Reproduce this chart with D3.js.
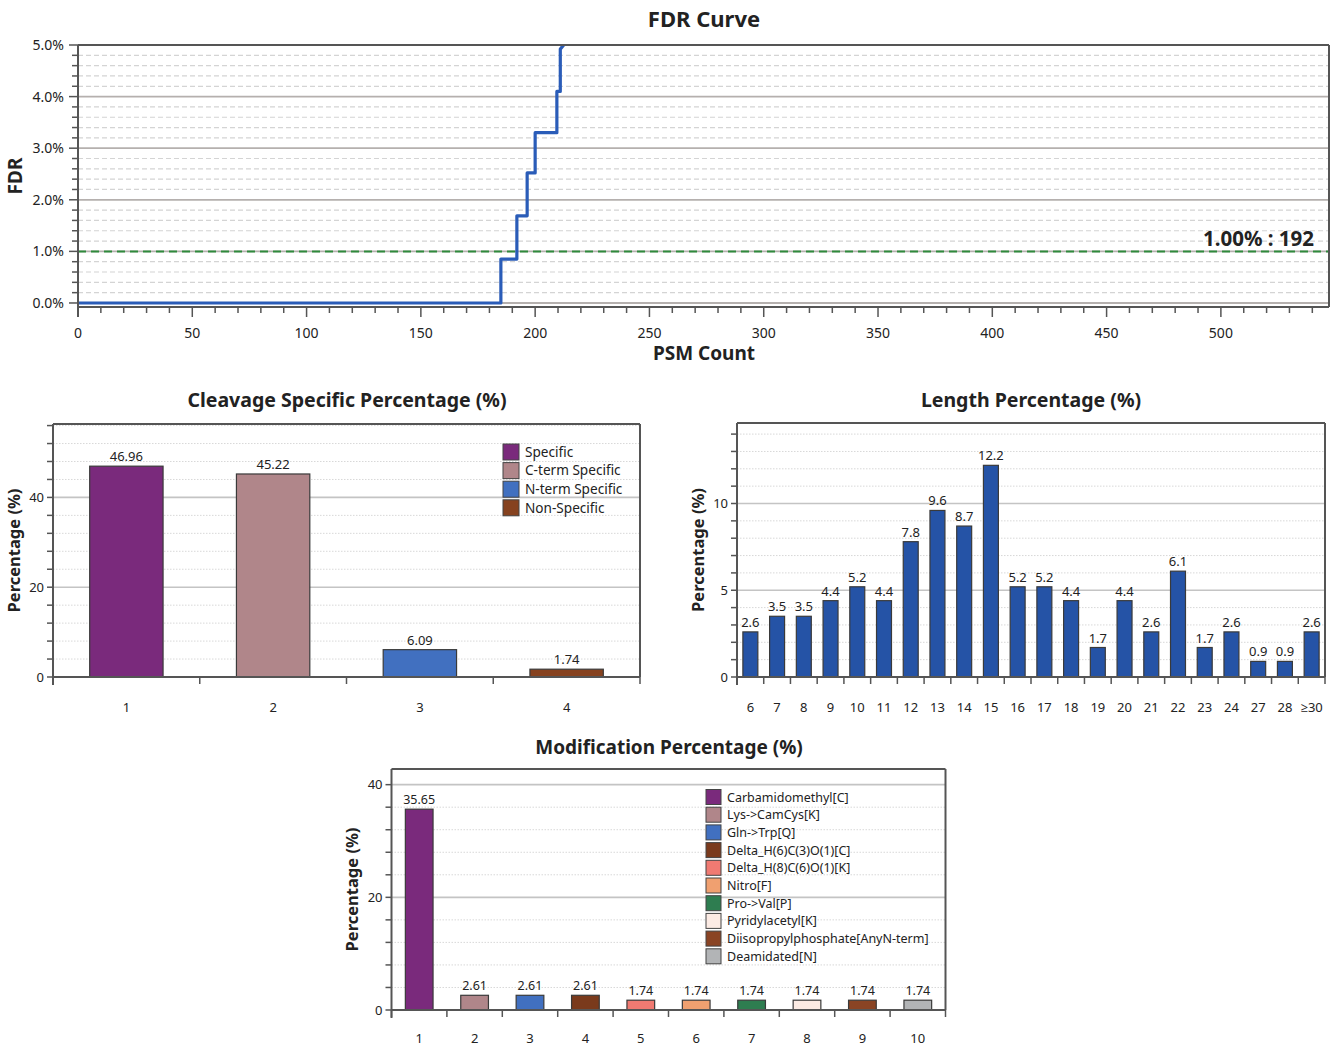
<!DOCTYPE html>
<html><head><meta charset="utf-8">
<script src="https://cdn.jsdelivr.net/npm/d3@7"></script>
<style>
body{margin:0;background:#fff}
text{font-family:"Noto Sans","Open Sans",sans-serif;fill:#222}
</style>
</head><body>
<svg id="c" width="1333" height="1047"></svg>
<script>
// ---------- DATA ----------
const fdrCounts = [0, 185, 185, 192, 192, 196.5, 196.5, 200, 200, 209.5, 209.5, 211, 211, 212.5];
const fdrValues = [0, 0, 0.85, 0.85, 1.69, 1.69, 2.52, 2.52, 3.3, 3.3, 4.1, 4.1, 4.92, 5.0];
const fdrThreshold = 1.0;
const psmAtThreshold = 192;
const fdrXTicks = [0, 50, 100, 150, 200, 250, 300, 350, 400, 450, 500];
const fdrYTicks = [0, 1, 2, 3, 4, 5];

const cleavageCats = ["1", "2", "3", "4"];
const cleavageNames = ["Specific", "C-term Specific", "N-term Specific", "Non-Specific"];
const cleavageValues = [46.96, 45.22, 6.09, 1.74];
const cleavageColors = ["#7a2a7c", "#b0868a", "#4170c0", "#86421f"];

const lengthCats = ["6","7","8","9","10","11","12","13","14","15","16","17","18","19","20","21","22","23","24","27","28","\u226530"];
const lengthValues = [2.6,3.5,3.5,4.4,5.2,4.4,7.8,9.6,8.7,12.2,5.2,5.2,4.4,1.7,4.4,2.6,6.1,1.7,2.6,0.9,0.9,2.6];
const lengthColor = "#2553a6";

const modCats = ["1","2","3","4","5","6","7","8","9","10"];
const modNames = ["Carbamidomethyl[C]","Lys->CamCys[K]","Gln->Trp[Q]","Delta_H(6)C(3)O(1)[C]","Delta_H(8)C(6)O(1)[K]","Nitro[F]","Pro->Val[P]","Pyridylacetyl[K]","Diisopropylphosphate[AnyN-term]","Deamidated[N]"];
const modValues = [35.65, 2.61, 2.61, 2.61, 1.74, 1.74, 1.74, 1.74, 1.74, 1.74];
const modColors = ["#7a2a7c","#b0868a","#4170c0","#7a3a1c","#f07a72","#f0a070","#2e7d50","#fcebe4","#8a4424","#b2b4b6"];

// ---------- DRAW ----------
const svg = d3.select("#c");
const AX = "#555";

// ===== FDR Curve =====
(function(){
  const L = 78, R = 1329, T = 45, B = 307;
  const x = d3.scaleLinear().domain([0, 547.3]).range([L, R]);
  const y = d3.scaleLinear().domain([-0.078, 5]).range([B, T]);
  const g = svg.append("g");
  for (let v = 0.2; v < 5; v += 0.2) {
    const vv = Math.round(v*10)/10;
    if (Math.abs(vv - Math.round(vv)) < 1e-6) continue;
    g.append("line").attr("x1", L).attr("x2", R).attr("y1", y(vv)).attr("y2", y(vv))
      .attr("stroke", "#d4d4d4").attr("stroke-width", 1.2).attr("stroke-dasharray", "5,3");
  }
  fdrYTicks.forEach(v => {
    if (v === 5) return;
    g.append("line").attr("x1", L).attr("x2", R).attr("y1", y(v)).attr("y2", y(v))
      .attr("stroke", "#b5b0ae").attr("stroke-width", 1.8);
  });
  g.append("line").attr("x1", L).attr("x2", R).attr("y1", y(fdrThreshold)).attr("y2", y(fdrThreshold))
    .attr("stroke", "#2f8a3c").attr("stroke-width", 2).attr("stroke-dasharray", "8,5");
  const pts = fdrCounts.map((c, i) => [c, fdrValues[i]]);
  g.append("path").datum(pts)
    .attr("d", d3.line().x(d => x(d[0])).y(d => y(d[1])))
    .attr("fill", "none").attr("stroke", "#2a5cb8").attr("stroke-width", 3.2).attr("stroke-linejoin", "round");
  g.append("line").attr("x1", L).attr("x2", R).attr("y1", T).attr("y2", T).attr("stroke", AX).attr("stroke-width", 2);
  g.append("line").attr("x1", R).attr("x2", R).attr("y1", T).attr("y2", B).attr("stroke", AX).attr("stroke-width", 2);
  const xAxis = g.append("g").attr("transform", `translate(0,${B})`);
  xAxis.append("line").attr("x1", L).attr("x2", R).attr("stroke", AX).attr("stroke-width", 2);
  for (let v = 0; v <= 540; v += 10) {
    const major = v % 50 === 0;
    xAxis.append("line").attr("x1", x(v)).attr("x2", x(v)).attr("y1", 0).attr("y2", major ? 10 : 6)
      .attr("stroke", AX).attr("stroke-width", 1.5);
  }
  fdrXTicks.forEach(v => xAxis.append("text").attr("x", x(v)).attr("y", 31).attr("text-anchor", "middle")
    .attr("font-size", 14).text(v));
  const yAxis = g.append("g").attr("transform", `translate(${L},0)`);
  yAxis.append("line").attr("y1", T).attr("y2", B + 10).attr("stroke", AX).attr("stroke-width", 2);
  for (let i = 0; i <= 25; i++) {
    const v = i * 0.2;
    const major = i % 5 === 0;
    yAxis.append("line").attr("x1", major ? -9 : -6).attr("x2", 0).attr("y1", y(v)).attr("y2", y(v))
      .attr("stroke", AX).attr("stroke-width", 1.5);
  }
  fdrYTicks.forEach(v => yAxis.append("text").attr("x", -14).attr("y", y(v) + 5).attr("text-anchor", "end")
    .attr("font-size", 14).text(v.toFixed(1) + "%"));
  svg.append("text").attr("x", 704).attr("y", 27).attr("text-anchor", "middle").attr("font-size", 22)
    .attr("font-weight", "bold").text("FDR Curve");
  svg.append("text").attr("x", 704).attr("y", 360).attr("text-anchor", "middle").attr("font-size", 19)
    .attr("font-weight", "bold").text("PSM Count");
  svg.append("text").attr("transform", "translate(22,176) rotate(-90)").attr("text-anchor", "middle")
    .attr("font-size", 19).attr("font-weight", "bold").text("FDR");
  svg.append("text").attr("x", 1314).attr("y", 246).attr("text-anchor", "end").attr("font-size", 20.5)
    .attr("font-weight", "bold").text(fdrThreshold.toFixed(2) + "% : " + psmAtThreshold);
})();

// ===== Bar chart helper =====
function barChart(o) {
  const { L, R, T, B } = o;
  const yMax = d3.max(o.vals) * 1.2;
  const x = d3.scaleBand().domain(o.cats).range([L, R]).paddingInner(0).paddingOuter(0);
  const y = d3.scaleLinear().domain([0, yMax]).range([B, T]);
  const g = svg.append("g");
  const minorVals = d3.range(o.minor, yMax, o.minor).map(v => Math.round(v * 1000) / 1000);
  minorVals.forEach(v => {
    const isMajor = Math.abs(v / o.major - Math.round(v / o.major)) < 1e-6;
    if (y(v) - T < 1.5) return;
    g.append("line").attr("x1", L).attr("x2", R).attr("y1", y(v)).attr("y2", y(v))
      .attr("stroke", isMajor ? "#c4c4c4" : "#d8d8d8")
      .attr("stroke-width", isMajor ? 1.6 : 1)
      .attr("stroke-dasharray", isMajor ? null : "1.5,1.5");
  });
  const bw = x.bandwidth() * o.barFrac;
  g.selectAll("rect.bar").data(o.vals).join("rect")
    .attr("x", (d, i) => x(o.cats[i]) + (x.bandwidth() - bw) / 2)
    .attr("y", d => y(d)).attr("width", bw).attr("height", d => B - y(d))
    .attr("fill", (d, i) => o.colors[i]).attr("stroke", "#3a3a3a").attr("stroke-width", 1.2);
  g.selectAll("text.val").data(o.vals).join("text")
    .attr("x", (d, i) => x(o.cats[i]) + x.bandwidth() / 2)
    .attr("y", d => y(d) - 5).attr("text-anchor", "middle").attr("font-size", o.valSize || 13)
    .attr("fill", "#333").text(d => String(d));
  g.append("line").attr("x1", L).attr("x2", R).attr("y1", T).attr("y2", T).attr("stroke", AX).attr("stroke-width", 2);
  g.append("line").attr("x1", R).attr("x2", R).attr("y1", T).attr("y2", B).attr("stroke", AX).attr("stroke-width", 2);
  const xa = g.append("g").attr("transform", `translate(0,${B})`);
  xa.append("line").attr("x1", L).attr("x2", R).attr("stroke", AX).attr("stroke-width", 2);
  o.cats.forEach((c, i) => {
    xa.append("line").attr("x1", x(c)).attr("x2", x(c)).attr("y1", 0).attr("y2", 7).attr("stroke", AX).attr("stroke-width", 1.5);
    xa.append("text").attr("x", x(c) + x.bandwidth() / 2).attr("y", o.xLabY).attr("text-anchor", "middle")
      .attr("font-size", 13).attr("fill", "#333").text(c);
  });
  xa.append("line").attr("x1", R).attr("x2", R).attr("y1", 0).attr("y2", 7).attr("stroke", AX).attr("stroke-width", 1.5);
  const ya = g.append("g").attr("transform", `translate(${L},0)`);
  ya.append("line").attr("y1", T).attr("y2", B + 8).attr("stroke", AX).attr("stroke-width", 2);
  [0].concat(minorVals).forEach(v => {
    ya.append("line").attr("x1", -6).attr("x2", 0).attr("y1", y(v)).attr("y2", y(v)).attr("stroke", AX).attr("stroke-width", 1.5);
    const isMajor = Math.abs(v / o.major - Math.round(v / o.major)) < 1e-6;
    if (isMajor) ya.append("text").attr("x", -9).attr("y", y(v) + 4.5).attr("text-anchor", "end")
      .attr("font-size", 13).attr("fill", "#333").text(v);
  });
  svg.append("text").attr("x", o.titleX).attr("y", o.titleY).attr("text-anchor", "middle").attr("font-size", o.titleSize || 19.5)
    .attr("font-weight", "bold").text(o.title);
  svg.append("text").attr("transform", `translate(${o.yLabX},${(T + B) / 2}) rotate(-90)`).attr("text-anchor", "middle")
    .attr("font-size", 16.5).attr("font-weight", "bold").text("Percentage (%)");
  if (o.legend) {
    const lg = o.legend;
    lg.names.forEach((n, i) => {
      const cy = lg.y + i * lg.dy;
      svg.append("rect").attr("x", lg.x).attr("y", cy - lg.sz / 2).attr("width", lg.sz).attr("height", lg.sz)
        .attr("fill", o.colors[i]).attr("stroke", "#444").attr("stroke-width", 1);
      svg.append("text").attr("x", lg.x + lg.sz + 6).attr("y", cy + lg.fs * 0.36).attr("font-size", lg.fs)
        .attr("fill", "#222").text(n);
    });
  }
}

barChart({ L: 53, R: 640, T: 424, B: 677, cats: cleavageCats, vals: cleavageValues, colors: cleavageColors,
  major: 20, minor: 4, barFrac: 0.5, xLabY: 35, title: "Cleavage Specific Percentage (%)", titleX: 347, titleY: 407,
  yLabX: 20, legend: { names: cleavageNames, x: 503, y: 452, dy: 18.6, sz: 16, fs: 13.6 } });

barChart({ L: 737, R: 1325, T: 423, B: 677, cats: lengthCats, vals: lengthValues,
  colors: lengthCats.map(() => lengthColor),
  major: 5, minor: 1, barFrac: 0.56, xLabY: 35, title: "Length Percentage (%)", titleX: 1031, titleY: 407,
  yLabX: 704 });

barChart({ L: 391.5, R: 945.5, T: 769, B: 1010, cats: modCats, vals: modValues, colors: modColors,
  major: 20, minor: 4, barFrac: 0.5, xLabY: 33, title: "Modification Percentage (%)", titleX: 669, titleY: 754,
  titleSize: 19, yLabX: 358, valSize: 12.5, legend: { names: modNames, x: 706, y: 797, dy: 17.7, sz: 15, fs: 12.5 } });
</script>
</body></html>
